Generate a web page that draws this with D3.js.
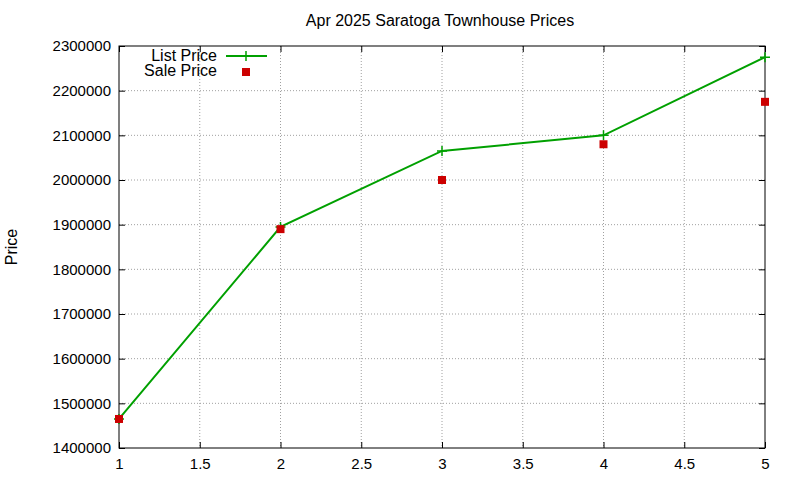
<!DOCTYPE html>
<html><head><meta charset="utf-8">
<script src="https://cdn.jsdelivr.net/npm/d3@7"></script>
<style>body{margin:0;background:#fff}svg{display:block}text{font-family:"Liberation Sans",Arial,sans-serif;font-size:16px;fill:#000}</style>
</head><body>
<script>
const xs = [1, 2, 3, 4, 5];
const listPrice = [1465000, 1895000, 2065000, 2100000, 2275000];
const salePrice = [1465000, 1890000, 2000000, 2080000, 2175000];
const xTicks = [1, 1.5, 2, 2.5, 3, 3.5, 4, 4.5, 5];
const yTicks = [1400000,1500000,1600000,1700000,1800000,1900000,2000000,2100000,2200000,2300000];

const W=800,H=480,L=119,R=765,T=46,B=448;
const svg=d3.select("body").append("svg").attr("width",W).attr("height",H);
const x=d3.scaleLinear().domain([1,5]).range([L,R]);
const y=d3.scaleLinear().domain([1400000,2300000]).range([B,T]);

const grid=svg.append("g").attr("stroke","#a0a0a0").attr("stroke-dasharray","1,2").attr("stroke-width",1);
xTicks.slice(1,-1).forEach(t=>grid.append("line").attr("x1",x(t)).attr("x2",x(t)).attr("y1",T).attr("y2",B));
yTicks.slice(1,-1).forEach(t=>grid.append("line").attr("y1",y(t)).attr("y2",y(t)).attr("x1",L).attr("x2",R));

const xa=svg.append("g").attr("transform",`translate(0,${B})`).call(d3.axisBottom(x).tickValues(xTicks).tickSize(-6).tickPadding(10).tickFormat(d3.format("")));
const xa2=svg.append("g").attr("transform",`translate(0,${T})`).call(d3.axisTop(x).tickValues(xTicks).tickSize(-6).tickFormat(""));
const ya=svg.append("g").attr("transform",`translate(${L},0)`).call(d3.axisLeft(y).tickValues(yTicks).tickSize(-6).tickPadding(8).tickFormat(d3.format("d")));
const ya2=svg.append("g").attr("transform",`translate(${R},0)`).call(d3.axisRight(y).tickValues(yTicks).tickSize(-6).tickFormat(""));
[xa,xa2,ya,ya2].forEach(g=>{g.select(".domain").remove();g.selectAll("text").style("font-size","15px").style("font-family","'Liberation Sans',Arial,sans-serif");g.selectAll("line").attr("stroke","#000");});
svg.append("rect").attr("x",L).attr("y",T).attr("width",R-L).attr("height",B-T).attr("fill","none").attr("stroke","#000");

svg.append("text").attr("x",440).attr("y",26).attr("text-anchor","middle").text("Apr 2025 Saratoga Townhouse Prices");
svg.append("text").attr("transform","translate(17,247) rotate(-90)").attr("text-anchor","middle").text("Price");

const green="#00a000", red="#cc0000";
const pts=xs.map((v,i)=>[v,listPrice[i]]);
svg.append("path").attr("d",d3.line().x(d=>x(d[0])).y(d=>y(d[1]))(pts)).attr("fill","none").attr("stroke",green).attr("stroke-width",2);
const plus=(g,cx,cy)=>g.append("path").attr("d",`M${cx-5},${cy}h10M${cx},${cy-5}v10`).attr("stroke",green).attr("stroke-width",1.5);
pts.forEach(d=>plus(svg,x(d[0]),y(d[1])));
xs.forEach((v,i)=>svg.append("rect").attr("x",x(v)-4).attr("y",y(salePrice[i])-4).attr("width",8).attr("height",8).attr("fill",red));

svg.append("text").attr("x",217).attr("y",61).attr("text-anchor","end").text("List Price");
svg.append("line").attr("x1",226).attr("x2",267).attr("y1",56).attr("y2",56).attr("stroke",green).attr("stroke-width",2);
plus(svg,246,56);
svg.append("text").attr("x",217).attr("y",76).attr("text-anchor","end").text("Sale Price");
svg.append("rect").attr("x",242).attr("y",68).attr("width",8).attr("height",8).attr("fill",red);
</script>
</body></html>
